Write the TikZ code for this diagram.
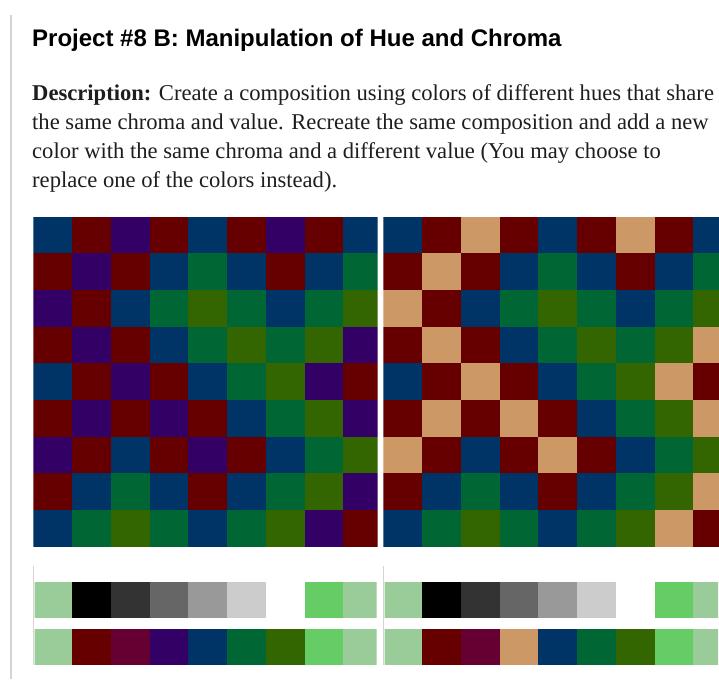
\documentclass[tikz,border=0pt]{standalone}
\usepackage{fontspec}
\setmainfont{Liberation Serif}
\newfontfamily\headfont{Liberation Sans}
\usepackage{tikz}
\definecolor{hueR}{HTML}{660000}
\definecolor{hueB}{HTML}{003366}
\definecolor{hueG}{HTML}{006633}
\definecolor{hueO}{HTML}{336600}
\definecolor{huepurple}{HTML}{330066}
\definecolor{huewine}{HTML}{660033}
\definecolor{huetan}{HTML}{CC9966}
\definecolor{lightgreen}{HTML}{99CC99}
\definecolor{midgreen}{HTML}{66CC66}
\definecolor{framegray}{HTML}{D4D4D4}
\definecolor{textgray}{HTML}{1E1E1E}
\tikzstyle{textline}=[anchor=base west, inner sep=0pt, text=textgray, font=\fontsize{22.6}{27}\selectfont]

\begin{document}
\begin{tikzpicture}[x=1pt, y=-1pt]
	\clip (0,0) rectangle (719,679);
	\fill[white] (0,0) rectangle (719,679);
	\draw[framegray, line width=1.5pt] (11,15) -- (11,679);
	% heading and description
	\node[anchor=base west, inner sep=0pt, font=\headfont\bfseries\fontsize{24}{28}\selectfont] (title) at (32,46.5) {Project \#8 B: Manipulation of Hue and Chroma};
	\node[textline] (desc1) at (32,100.5) {\textbf{Description:} Create a composition using colors of different hues that share};
	\node[textline] (desc2) at (32,129.4) {the same chroma and value. Recreate the same composition and add a new};
	\node[textline] (desc3) at (32,158.2) {color with the same chroma and a different value (You may choose to};
	\node[textline] (desc4) at (32,187) {replace one of the colors instead).};
	% two checkerboards, purple swapped for tan on the right
	\foreach \gx/\gend/\newhue in {33.3/377.5/huepurple, 383.3/719/huetan} {
		\colorlet{hueP}{\newhue}
		\begin{scope}
			\clip (\gx,216.7) rectangle (\gend,546.7);
			\foreach \row [count=\r from 0] in {{B,R,P,R,B,R,P,R,B},{R,P,R,B,G,B,R,B,G},{P,R,B,G,O,G,B,G,O},{R,P,R,B,G,O,G,O,P},{B,R,P,R,B,G,O,P,R},{R,P,R,P,R,B,G,O,P},{P,R,B,R,P,R,B,G,O},{R,B,G,B,R,B,G,O,P},{B,G,O,G,B,G,O,P,R}} {
				\foreach \c [count=\k from 0] in \row
					\fill[hue\c] (\gx+38.75*\k,216.7+36.67*\r) rectangle ++(38.76,36.68);
			}
		\end{scope}
		% value strip and hue strip
		\draw[framegray, line width=1pt] (\gx+0.5,566) -- (\gx+0.5,665);
		\begin{scope}
			\clip (\gx+1.3,560) rectangle (\gend-0.8,670);
			\foreach \sw [count=\k from 0] in {lightgreen,black,black!80,black!60,black!40,black!20,white,midgreen,lightgreen}
				\fill[\sw] (\gx+38.75*\k,581.7) rectangle ++(38.76,36.6);
			\foreach \sw [count=\k from 0] in {lightgreen,hueR,huewine,hueP,hueB,hueG,hueO,midgreen,lightgreen}
				\fill[\sw] (\gx+38.75*\k,629.3) rectangle ++(38.76,35.7);
		\end{scope}
	}
\end{tikzpicture}
\end{document}
